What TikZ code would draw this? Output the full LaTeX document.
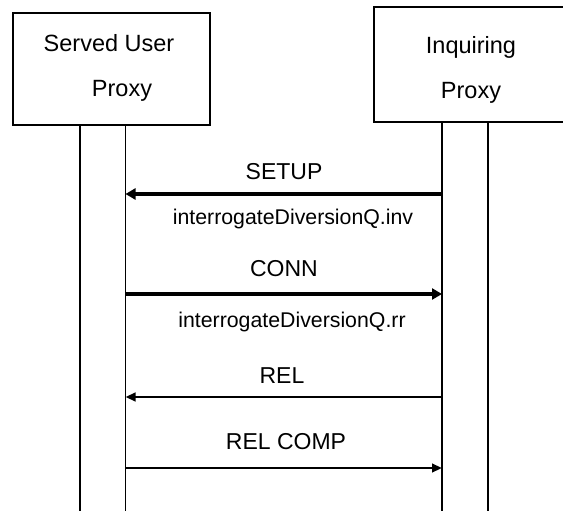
\documentclass[tikz,border=0pt]{standalone}
\usepackage{fontspec}
\setmainfont{Liberation Sans}
\usetikzlibrary{arrows.meta}
\tikzset{
  party/.style={draw=black,line width=2pt,inner sep=0pt},
  boxtext/.style={anchor=base,inner sep=0pt,font=\fontsize{23.5}{28}\selectfont},
  msgtext/.style={anchor=base,inner sep=0pt,font=\fontsize{23}{27}\selectfont},
  optext/.style={anchor=base,inner sep=0pt,font=\fontsize{21.3}{25}\selectfont}
}
\def\drawlife{\draw[line width=1.5pt]}
\def\drawbig{\draw[line width=4pt,-{Triangle[length=10pt,width=11pt]}]}
\def\drawthin{\draw[line width=2.5pt,-{Triangle[length=10pt,width=8.5pt]}]}

\begin{document}
\begin{tikzpicture}[x=1pt,y=-1pt]
\clip (0,0) rectangle (563,511);
% the two proxies
\node[party,minimum width=197.5pt,minimum height=112pt] (sup) at (111.25,69) {};
\node[party,minimum width=194pt,minimum height=114.5pt] (ip) at (471,64.75) {};
\node[boxtext] (supname) at (109,52) {Served User};
\node[boxtext] (supproxy) at (122,97) {Proxy};
\node[boxtext] (ipname) at (471,54) {Inquiring};
\node[boxtext] (ipproxy) at (471,99) {Proxy};
% lifelines
\coordinate (supin) at (80,511);
\coordinate (supout) at (125.5,511);
\coordinate (ipin) at (442,511);
\coordinate (ipout) at (488,511);
\drawlife (supin |- sup.south) -- (supin);
\drawlife (supout |- sup.south) -- (supout);
\drawlife (ipin |- ip.south) -- (ipin);
\drawlife (ipout |- ip.south) -- (ipout);
% messages
\coordinate (setupS) at (442,194);
\coordinate (setupE) at (125.5,194);
\coordinate (connS) at (125.5,294);
\coordinate (connE) at (442,294);
\coordinate (relS) at (442,397);
\coordinate (relE) at (125.5,397);
\coordinate (compS) at (125.5,468);
\coordinate (compE) at (442,468);
\drawbig (setupS) -- (setupE);
\node[msgtext] (setup) at (284,179) {SETUP};
\node[optext] (inv) at (293,224) {interrogateDiversionQ.inv};
\drawbig (connS) -- (connE);
\node[msgtext] (conn) at (284,276) {CONN};
\node[optext] (rr) at (292,327) {interrogateDiversionQ.rr};
\drawthin (relS) -- (relE);
\node[msgtext] (rel) at (282,383) {REL};
\drawthin (compS) -- (compE);
\node[msgtext] (comp) at (286,449) {REL COMP};
\end{tikzpicture}
\end{document}
